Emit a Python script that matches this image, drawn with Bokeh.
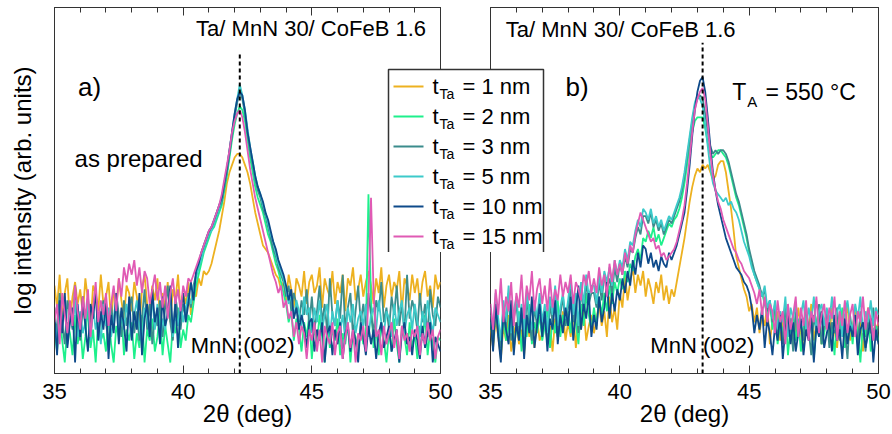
from bokeh.plotting import figure
from bokeh.models import Range1d, SingleIntervalTicker, LinearAxis, FixedTicker, Label
from bokeh.layouts import row
from bokeh.embed import file_html
from bokeh.resources import INLINE
from bokeh.core.properties import value

# ---------------- data ----------------
two_theta = [round(35 + 0.1 * i, 1) for i in range(151)]
thickness = ["1", "2", "3", "5", "10", "15"]
colors = ["#EDB120", "#1EF08C", "#3B8C8C", "#3CCACA", "#0E4A8A", "#E05AB4"]

# panel a) as prepared (log intensity, arb. units)
a_1nm = [24,18,27,15,22,26,14,21,25,19, 23,16,26,20,13,24,22,17,27,19, 21,25,14,23,18,26,20,15,24,22,
         17,25,21,13,23,27,19,16,24,20, 26,15,22,18,25,14,23,20,27,17, 22,19,25,16,23,21,26,24,28,27,
         28,30,33,36,39,43,47,52,55,57, 59,60,60,59,57,55,52,48,44,41, 38,35,34,33,31,29,27,26,23,25,
         20,27,23,18,26,24,21,28,19,25, 27,22,24,29,18,26,23,21,28,19, 25,22,27,17,26,24,29,20,23,27,
         21,25,28,24,19,26,22,29,18,24, 27,21,25,23,28,17,26,24,20,27, 22,26,19,25,28,21,24,18,27,23, 25]
a_2nm = [12,6,17,9,3,14,11,5,16,8, 13,4,10,18,7,12,3,15,9,11, 6,16,8,3,13,10,17,5,12,9,
         14,4,11,7,16,3,12,9,15,6, 10,17,5,13,8,3,14,11,18,7, 12,9,16,14,19,24,27,30,33,35,
         37,39,40,42,44,46,50,54,59,64, 68,71,73,72,69,64,59,55,51,48, 46,44,41,38,36,33,30,28,25,22,
         19,14,17,9,15,12,6,14,10,16, 4,13,8,16,10,3,14,7,12,9, 15,5,11,8,14,3,12,10,6,13,
         8,11,49,20,7,12,5,14,9,3, 12,6,15,8,3,13,10,5,14,7, 11,4,13,9,16,5,12,8,3,10, 9]
a_3nm = [18,10,22,14,8,20,16,12,24,15, 9,19,13,21,11,17,23,10,16,20, 14,8,19,12,22,16,10,20,13,18,
         21,11,17,9,15,23,12,19,8,16, 13,20,10,18,24,14,9,21,16,12, 19,15,22,18,24,27,29,32,34,36,
         38,40,41,43,45,47,51,55,60,65, 70,74,77,75,71,66,61,57,53,50, 48,45,43,40,37,34,32,29,27,25,
         21,24,17,22,19,14,20,16,23,13, 21,12,17,24,14,19,11,26,16,13, 20,15,27,12,18,22,10,17,24,14,
         19,13,22,16,11,20,17,25,14,18, 12,21,16,24,13,19,11,27,15,20, 17,12,22,14,19,10,23,16,13,21, 18]
a_5nm = [15,9,19,12,21,8,16,13,20,10, 17,11,14,20,9,18,12,16,8,19, 13,18,10,15,21,9,17,12,19,14,
         10,16,20,13,8,18,15,11,21,12, 19,9,15,12,18,22,10,16,13,20, 14,18,21,19,23,26,29,31,34,36,
         38,39,41,43,45,48,52,56,61,66, 71,75,79,76,72,67,62,58,54,51, 49,46,44,41,38,36,33,30,28,26,
         23,19,22,15,20,17,13,21,16,18, 11,18,14,20,12,16,19,10,17,13, 20,12,16,9,18,14,19,11,15,17,
         13,19,10,16,18,12,20,14,11,17, 15,10,19,13,17,20,11,16,18,12, 19,14,10,17,13,20,15,11,18,16, 14]
a_10nm = [16,5,20,11,22,7,14,18,3,19, 10,21,13,6,19,15,23,9,17,12, 20,4,16,11,22,8,18,13,6,21,
          9,17,12,22,5,15,19,10,23,14, 18,8,21,13,16,24,11,19,7,17, 22,14,19,25,20,28,30,33,35,37,
          39,40,42,44,46,48,52,56,61,66, 71,75,77,76,72,66,62,58,54,51, 49,47,44,42,39,36,34,31,29,27,
          24,20,23,15,18,12,16,13,7,14, 15,6,12,9,14,3,11,13,5,12, 8,14,4,11,13,6,12,9,3,14,
          10,5,13,8,12,4,11,14,7,10, 13,6,9,12,3,11,14,8,10,5, 12,9,4,13,7,11,14,3,10,8, 6]
a_15nm = [14,19,8,22,16,11,20,13,24,17, 12,21,15,23,10,18,25,14,20,16, 22,13,19,24,17,26,21,29,25,30,
          27,31,24,29,22,28,26,19,23,27, 20,25,18,24,15,22,26,19,23,17, 24,21,26,25,27,29,31,33,35,37,
          39,40,42,44,46,49,53,57,61,66, 69,71,72,70,66,61,56,52,48,45, 42,39,36,33,30,27,25,22,24,18,
          20,15,17,10,14,8,13,11,4,12, 9,14,6,12,3,13,10,8,14,5, 11,13,4,10,14,7,12,3,11,9,
          13,6,20,48,22,10,12,5,13,8, 11,14,7,12,4,13,9,11,6,12, 10,13,5,11,8,14,9,12,4,10, 12]

# panel b) annealed at 550 C
b_1nm = [12,7,15,10,4,13,9,16,6,11, 14,8,12,5,16,10,13,7,15,9, 11,16,8,13,6,15,10,12,17,9,
         14,10,17,7,15,12,18,9,13,16, 11,15,19,13,17,10,21,14,18,12, 22,18,27,20,25,29,22,27,24,28,
         21,26,23,19,25,22,27,20,24,19, 23,21,25,29,33,37,42,47,51,54, 56,55,57,56,57,55,53,54,57,58,
         58,55,50,45,39,32,29,26,23,21, 17,19,14,18,11,16,13,19,8,15, 12,17,9,14,19,10,15,7,13,18,
         11,6,16,12,19,9,14,17,8,13, 15,10,18,12,7,16,11,14,19,9, 13,17,10,15,6,14,18,11,16,12, 14]
b_2nm = [14,8,18,11,5,16,9,13,19,7, 12,17,6,15,10,19,8,14,11,16, 9,13,18,7,15,11,20,10,16,13,
         17,11,21,14,8,19,13,22,16,12, 18,13,21,16,22,17,24,19,25,22, 26,23,28,25,30,28,32,34,31,37,
         36,39,37,40,36,38,35,37,39,41, 40,42,43,45,48,52,57,62,66,69, 70,70,70,67,63,60,59,60,61,61,
         60,59,57,54,51,48,46,43,40,37, 33,30,27,25,23,22,19,16,20,12, 17,8,14,11,18,5,13,16,9,15,
         6,12,17,10,14,4,13,18,8,11, 15,9,13,5,16,11,18,7,12,14, 8,16,11,3,14,10,17,6,12,13, 9]
b_3nm = [16,10,20,13,7,18,12,22,9,15, 19,11,17,6,21,14,9,18,13,20, 12,17,8,19,14,22,10,16,21,13,
         18,24,14,20,11,23,17,25,19,22, 22,18,25,20,27,23,26,22,29,25, 30,27,32,29,34,33,37,40,38,43,
         43,41,44,40,42,39,41,38,40,42, 41,43,45,47,50,54,59,64,69,73, 75,76,75,71,66,62,60,61,60,61,
         61,60,58,55,52,49,47,44,41,38, 34,31,28,26,24,21,23,17,20,14, 19,11,16,8,18,13,15,6,17,10,
         14,9,18,12,5,16,11,19,8,13, 17,7,14,11,18,9,15,12,4,16, 10,14,8,17,12,6,15,11,18,9, 13]
b_5nm = [18,12,22,15,9,20,14,24,11,17, 21,13,19,10,23,16,12,20,15,22, 14,19,11,21,16,24,13,18,22,15,
         20,26,16,22,13,25,19,27,21,24, 24,19,27,22,28,25,29,24,31,27, 31,29,34,31,36,35,39,42,40,45,
         44,42,45,41,43,40,42,39,41,43, 42,44,46,48,51,55,60,65,70,74, 76,75,73,68,62,56,52,50,49,48,
         47,48,46,47,45,44,42,39,36,34, 32,29,27,25,23,21,24,18,20,15, 20,12,17,14,21,10,18,15,19,11,
         16,20,12,18,14,21,11,17,19,13, 18,14,21,12,17,19,10,16,20,14, 12,19,15,21,11,17,14,20,13,18, 16]
b_10nm = [15,6,19,10,3,17,12,8,20,5, 14,9,18,4,16,11,21,7,13,19, 10,17,6,15,12,20,8,16,11,18,
          13,21,9,17,24,12,19,15,22,10, 16,12,21,14,18,25,15,22,17,23, 20,26,22,28,24,31,27,33,29,35,
          34,30,33,29,31,28,32,30,29,33, 31,33,35,38,41,44,50,57,65,72, 77,80,81,77,70,62,55,50,46,43,
          40,37,35,33,31,29,28,27,25,24, 22,18,11,16,12,18,7,15,11,5, 13,9,16,4,12,17,8,14,6,11,
          15,5,12,9,16,3,13,10,17,7, 11,14,6,16,9,12,4,15,8,13, 10,16,5,12,14,7,11,15,3,12, 8]
b_15nm = [19,12,23,16,26,14,21,17,25,13, 22,18,27,15,24,20,28,17,23,26, 19,24,17,26,18,23,20,27,21,25,
          22,27,19,25,23,20,27,24,28,22, 26,22,29,24,27,21,30,25,31,27, 30,27,33,30,35,33,38,41,44,42,
          40,38,36,37,34,35,32,33,31,32, 33,34,36,39,42,46,52,59,66,72, 75,77,78,75,68,60,54,50,47,45,
          42,40,38,36,34,33,31,30,28,27, 26,24,22,19,23,16,21,14,19,17, 11,20,14,17,8,19,12,16,21,10,
          18,13,20,9,17,14,21,11,16,19, 12,18,15,21,9,17,13,20,11,16, 19,10,17,14,21,12,18,15,9,17, 13]

series_a = [a_1nm, a_2nm, a_3nm, a_5nm, a_10nm, a_15nm]
series_b = [b_1nm, b_2nm, b_3nm, b_5nm, b_10nm, b_15nm]
for s in series_a + series_b:
    assert len(s) == len(two_theta), len(s)

peak_pos = [42.2, 43.2]        # MnN (002) marker positions, deg
marker_top = [87.7, 90.4]      # top of the dashed marker lines

FONT = "Liberation Sans"
FRAME = "#333333"


def style_axes(p, with_ylabel):
    xb = LinearAxis(ticker=SingleIntervalTicker(interval=5, num_minor_ticks=5), axis_label="2\u03b8 (deg)")
    xt = LinearAxis(ticker=SingleIntervalTicker(interval=5, num_minor_ticks=5))
    for ax in (xb, xt):
        ax.axis_line_color = FRAME
        ax.major_tick_line_color = FRAME
        ax.minor_tick_line_color = FRAME
        ax.major_tick_in = 8
        ax.major_tick_out = 0
        ax.minor_tick_in = 5
        ax.minor_tick_out = 0
        ax.major_label_text_font = FONT
        ax.axis_label_text_font = FONT
        ax.axis_label_text_font_style = "normal"
        ax.axis_label_text_color = "black"
    xb.major_label_text_color = "black"
    xb.major_label_text_font_size = "22px"
    xb.axis_label_text_font_size = "24px"
    xb.major_label_standoff = 10
    xb.axis_label_standoff = -2
    xt.major_label_text_font_size = "1px"
    xt.major_label_text_color = None
    xt.major_label_standoff = 0
    p.add_layout(xb, "below")
    p.add_layout(xt, "above")
    if with_ylabel:
        yl = LinearAxis(ticker=FixedTicker(ticks=[]), axis_label="log intensity (arb. units)")
        yl.axis_line_color = FRAME
        yl.major_label_standoff = 0
        yl.axis_label_standoff = 19
        yl.axis_label_text_font = FONT
        yl.axis_label_text_font_size = "24px"
        yl.axis_label_text_font_style = "normal"
        yl.axis_label_text_color = "black"
        p.add_layout(yl, "left")


def make_panel(series, frame_w, mb_left, mb_right, with_ylabel):
    p = figure(frame_width=frame_w, frame_height=366, x_range=Range1d(35, 50), y_range=Range1d(0, 100),
               output_backend="svg", toolbar_location=None,
               x_axis_location=None, y_axis_location=None,
               min_border_left=mb_left, min_border_right=mb_right,
               min_border_top=7, min_border_bottom=61)
    p.grid.visible = False
    p.outline_line_color = FRAME
    p.outline_line_width = 1
    p.border_fill_color = None
    p.background_fill_color = None
    style_axes(p, with_ylabel)
    for ys, c in zip(series, colors):
        p.line(two_theta, ys, line_color=c, line_width=1.8)
    return p


p1 = make_panel(series_a, 386, 54, 15, True)
p2 = make_panel(series_b, 388, 105, 14, False)
p1.styles = {"position": "absolute", "left": "0px", "top": "0px"}
p2.styles = {"position": "absolute", "left": "385px", "top": "0px"}

# dashed MnN (002) markers
p1.segment(x0=[peak_pos[0]], x1=[peak_pos[0]], y0=[0], y1=[marker_top[0]],
           line_color="black", line_width=2, line_dash="4 3")
p2.segment(x0=[peak_pos[1]], x1=[peak_pos[1]], y0=[0], y1=[marker_top[1]],
           line_color="black", line_width=2, line_dash="4 3")


def lab(p, x, y, text, size, align="left"):
    p.add_layout(Label(x=x, y=y, text=text, text_font=FONT, text_font_size=size,
                       text_align=align, text_baseline="middle", text_color="black"))


lab(p1, 44.97, 94.2, "Ta/ MnN 30/ CoFeB 1.6", "22px", "center")
lab(p1, 35.91, 78.2, "a)", "26px")
lab(p1, 35.78, 58.7, "as prepared", "24px")
lab(p1, 40.29, 7.6, "MnN (002)", "22px")

lab(p2, 40.03, 93.9, "Ta/ MnN 30/ CoFeB 1.6", "22px", "center")
lab(p2, 37.90, 78.2, "b)", "26px")
lab(p2, 44.35, 77.0, "T", "23px")
lab(p2, 44.93, 74.3, "A", "15px")
lab(p2, 45.63, 77.0, "= 550 \u00b0C", "23px")
lab(p2, 41.18, 7.6, "MnN (002)", "22px")

# legend box (separate small canvas laid over both panels)
leg = figure(frame_width=155, frame_height=188, x_range=Range1d(0, 155), y_range=Range1d(188, 0),
             output_backend="svg", toolbar_location=None,
             x_axis_location=None, y_axis_location=None,
             min_border_left=2, min_border_right=2, min_border_top=0, min_border_bottom=2)
leg.grid.visible = False
leg.outline_line_color = FRAME
leg.outline_line_width = 1.5
leg.background_fill_color = "white"
leg.border_fill_color = None
leg.styles = {"position": "absolute", "left": "386px", "top": "62px"}

row_y = [17, 47, 77, 107, 137, 167]
leg.segment(x0=[5] * 6, x1=[35] * 6, y0=row_y, y1=row_y, line_color=colors, line_width=2)
leg.text(x=[44] * 6, y=row_y, text=["t"] * 6, text_font=value(FONT), text_font_size="22px",
         text_baseline="middle", text_color="black")
leg.text(x=[51] * 6, y=[v + 7 for v in row_y], text=["Ta"] * 6, text_font=value(FONT),
         text_font_size="14px", text_baseline="middle", text_color="black")
leg.text(x=[74] * 6, y=row_y, text=["= %s nm" % t for t in thickness], text_font=value(FONT),
         text_font_size="22px", text_baseline="middle", text_color="black")

layout = row(p1, p2, leg, width=892, height=434, sizing_mode="fixed",
             styles={"position": "relative"})
open("out.html", "w").write(file_html(layout, INLINE))
